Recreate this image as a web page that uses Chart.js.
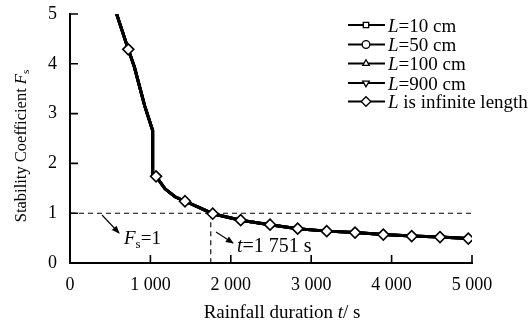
<!DOCTYPE html>
<html>
<head>
<meta charset="utf-8">
<script src="https://cdn.jsdelivr.net/npm/chart.js@4/dist/chart.umd.min.js"></script>
<style>
  html, body { margin: 0; padding: 0; background: #fff; }
  #wrap { width: 528px; height: 325px; }
</style>
</head>
<body>
<div id="wrap"><canvas id="fsChart"></canvas></div>
<script>
// rainfall duration (s) and stability coefficient along the curve
const tCurve = [580, 725, 800, 930, 1028, 1028, 1070, 1182, 1306, 1430, 1596, 1775, 2123, 2488, 2832, 3193, 3545, 3897, 4250, 4602, 4954];
const fsCurve = [5.0, 4.29, 3.94, 3.15, 2.66, 1.79, 1.74, 1.49, 1.33, 1.24, 1.12, 0.99, 0.86, 0.77, 0.69, 0.64, 0.61, 0.57, 0.54, 0.52, 0.49];

// marker positions (diamonds)
const tMarks = [725, 1070, 1430, 1775, 2123, 2488, 2832, 3193, 3545, 3897, 4250, 4602, 4954];
const fsMarks = [4.29, 1.74, 1.24, 0.99, 0.86, 0.77, 0.69, 0.64, 0.61, 0.57, 0.54, 0.52, 0.49];

const seriesNames = ["=10 cm", "=50 cm", "=100 cm", "=900 cm", " is infinite length"];
const seriesStyles = ["rect", "circle", "triangle", "triangle", "rectRot"];
const seriesRot = [0, 0, 0, 180, 0];

const xTicks = [0, 1000, 2000, 3000, 4000, 5000];
const yTicks = [0, 1, 2, 3, 4, 5];
const fsLimit = 1;
const tCritical = 1751;

const SERIF = "'Liberation Serif', 'Times New Roman', serif";

const curvePts = tCurve.map((t, i) => ({ x: t, y: fsCurve[i] }));
const markPts = tMarks.map((t, i) => ({ x: t, y: fsMarks[i] }));

const datasets = seriesNames.map((name, i) => {
  const isMarks = i === 4;
  return {
    label: "L" + name,
    data: isMarks ? markPts : curvePts,
    showLine: !isMarks,
    borderColor: "#000",
    backgroundColor: "#fff",
    borderWidth: isMarks ? 1.5 : 3,
    pointStyle: seriesStyles[i],
    rotation: seriesRot[i],
    pointRadius: isMarks ? 5.5 : 0,
    pointBorderWidth: 1.6,
    order: isMarks ? 0 : 1,
    tension: 0,
  };
});

function fmt(v) {
  return String(v).replace(/\B(?=(\d{3})+(?!\d))/g, " ");
}

// text with mixed italic / subscript parts
function partsWidth(ctx, parts) {
  let w = 0;
  parts.forEach(p => { ctx.font = p.font; w += ctx.measureText(p.text).width; });
  return w;
}
function drawParts(ctx, parts, x, y) {
  parts.forEach(p => {
    ctx.font = p.font;
    ctx.fillText(p.text, x, y + (p.dy || 0));
    x += ctx.measureText(p.text).width;
  });
}

function arrow(ctx, x1, y1, x2, y2) {
  ctx.beginPath();
  ctx.moveTo(x1, y1);
  ctx.lineTo(x2, y2);
  ctx.stroke();
  const a = Math.atan2(y2 - y1, x2 - x1);
  const len = 7, w = 3.2;
  ctx.beginPath();
  ctx.moveTo(x2 + Math.cos(a), y2 + Math.sin(a));
  ctx.lineTo(x2 - len * Math.cos(a) + w * Math.sin(a), y2 - len * Math.sin(a) - w * Math.cos(a));
  ctx.lineTo(x2 - len * Math.cos(a) - w * Math.sin(a), y2 - len * Math.sin(a) + w * Math.cos(a));
  ctx.closePath();
  ctx.fill();
}

const extras = {
  id: "extras",
  beforeDatasetsDraw(chart) {
    const { ctx, scales: { x, y } } = chart;
    ctx.save();
    ctx.strokeStyle = "#000";
    ctx.lineWidth = 1.1;
    ctx.setLineDash([5, 4]);
    ctx.beginPath();
    ctx.moveTo(x.getPixelForValue(0), y.getPixelForValue(fsLimit));
    ctx.lineTo(x.getPixelForValue(5000), y.getPixelForValue(fsLimit));
    ctx.moveTo(x.getPixelForValue(tCritical), y.getPixelForValue(fsLimit));
    ctx.lineTo(x.getPixelForValue(tCritical), y.getPixelForValue(0));
    ctx.stroke();
    ctx.restore();
  },
  afterDraw(chart) {
    const { ctx, scales: { x, y }, chartArea } = chart;
    ctx.save();
    ctx.strokeStyle = "#000";
    ctx.fillStyle = "#000";

    // inward tick marks
    ctx.lineWidth = 1.6;
    ctx.beginPath();
    xTicks.forEach(v => {
      if (v === 0) return;
      const px = x.getPixelForValue(v);
      ctx.moveTo(px, chartArea.bottom);
      ctx.lineTo(px, chartArea.bottom - 8);
    });
    yTicks.forEach(v => {
      if (v === 0) return;
      const py = y.getPixelForValue(v);
      ctx.moveTo(chartArea.left, py);
      ctx.lineTo(chartArea.left + 8, py);
    });
    ctx.stroke();

    // legend
    const rowY = [25, 44.5, 63.5, 83, 101.5];
    chart.data.datasets.forEach((ds, i) => {
      const yy = rowY[i];
      ctx.lineWidth = 1.8;
      ctx.strokeStyle = "#000";
      ctx.beginPath();
      ctx.moveTo(348, yy);
      ctx.lineTo(385, yy);
      ctx.stroke();
      ctx.fillStyle = "#fff";
      ctx.lineWidth = 1.3;
      Chart.helpers.drawPoint(ctx, {
        pointStyle: ds.pointStyle,
        rotation: ds.rotation,
        radius: i === 4 ? 4.8 : 3.8,
        borderWidth: 1.3,
      }, 366, yy);
      ctx.fillStyle = "#000";
      ctx.textBaseline = "alphabetic";
      ctx.textAlign = "left";
      drawParts(ctx, [
        { text: "L", font: "italic 19px " + SERIF },
        { text: seriesNames[i], font: "19px " + SERIF },
      ], 388, yy + 6.5);
    });

    // axis titles
    ctx.textBaseline = "alphabetic";
    ctx.textAlign = "left";
    const xt = [
      { text: "Rainfall duration ", font: "19px " + SERIF },
      { text: "t", font: "italic 19px " + SERIF },
      { text: "/ s", font: "19px " + SERIF },
    ];
    drawParts(ctx, xt, 282 - partsWidth(ctx, xt) / 2, 318);

    const yt = [
      { text: "Stability Coefficient ", font: "16.5px " + SERIF },
      { text: "F", font: "italic 16.5px " + SERIF },
      { text: "s", font: "11px " + SERIF, dy: 3 },
    ];
    ctx.save();
    ctx.translate(26, 146);
    ctx.rotate(-Math.PI / 2);
    drawParts(ctx, yt, -partsWidth(ctx, yt) / 2, 0);
    ctx.restore();

    // annotations
    ctx.lineWidth = 1.1;
    arrow(ctx, 102, 215, 119, 233);
    arrow(ctx, 216, 232, 233, 243);
    drawParts(ctx, [
      { text: "F", font: "italic 19px " + SERIF },
      { text: "s", font: "13px " + SERIF, dy: 4 },
      { text: "=1", font: "19px " + SERIF },
    ], 124, 244);
    drawParts(ctx, [
      { text: "t", font: "italic 20px " + SERIF },
      { text: "=1 751 s", font: "20px " + SERIF },
    ], 237, 252);

    ctx.restore();
  },
};

new Chart(document.getElementById("fsChart"), {
  type: "line",
  data: { datasets },
  plugins: [extras],
  options: {
    responsive: true,
    maintainAspectRatio: false,
    animation: false,
    events: [],
    layout: { padding: { left: 0, right: 56, top: 14, bottom: 0 } },
    plugins: {
      legend: { display: false },
      tooltip: { enabled: false },
    },
    scales: {
      x: {
        type: "linear",
        min: 0,
        max: 5000,
        afterBuildTicks: s => { s.ticks = xTicks.map(v => ({ value: v })); },
        afterFit: s => { s.height = 62; s.paddingLeft = 0; s.paddingRight = 0; },
        grid: { display: false, drawTicks: false },
        border: { display: true, color: "#000", width: 2 },
        ticks: {
          padding: 11,
          color: "#000",
          font: { family: SERIF, size: 18 },
          maxRotation: 0,
          callback: v => fmt(v),
        },
      },
      y: {
        min: 0,
        max: 5,
        afterBuildTicks: s => { s.ticks = yTicks.map(v => ({ value: v })); },
        afterFit: s => { s.width = 70; s.paddingTop = 0; s.paddingBottom = 0; },
        grid: { display: false, drawTicks: false },
        border: { display: true, color: "#000", width: 2 },
        ticks: {
          padding: 13,
          color: "#000",
          font: { family: SERIF, size: 18 },
          callback: v => fmt(v),
        },
      },
    },
  },
});
</script>
</body>
</html>
